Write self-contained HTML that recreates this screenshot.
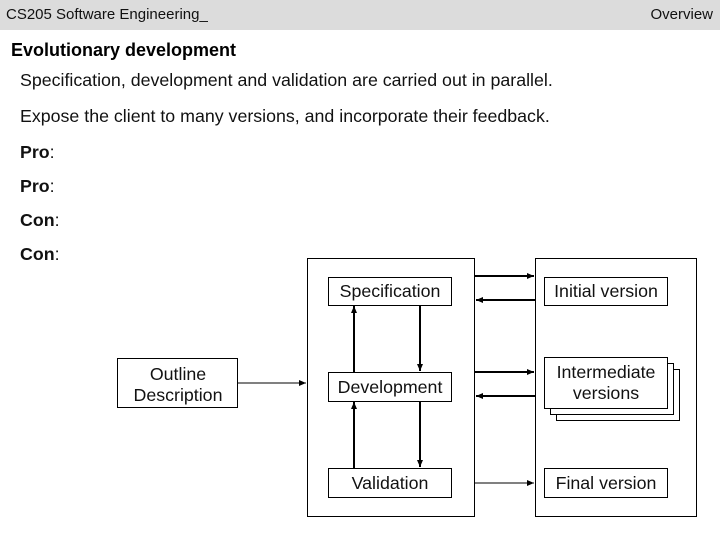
<!DOCTYPE html>
<html><head><meta charset="utf-8"><style>
body{margin:0;width:720px;height:540px;background:#fff;font-family:"Liberation Sans",Arial,sans-serif;overflow:hidden;position:relative}
.hdr{position:absolute;left:0;top:0;width:720px;height:30px;background:#dcdcdc}
.t{position:absolute;white-space:nowrap;color:#111;font-size:17.8px}
</style></head><body>
<div class="hdr"></div>
<div class="t" style="left:6px;top:6px;font-size:15px">CS205 Software Engineering_</div>
<div class="t" style="right:7px;top:6px;font-size:15px">Overview</div>
<div class="t" style="left:11px;top:40px;font-size:18px;font-weight:bold;color:#000">Evolutionary development</div>
<div class="t" style="left:20px;top:70px">Specification, development and validation are carried out in parallel.</div>
<div class="t" style="left:20px;top:106px">Expose the client to many versions, and incorporate their feedback.</div>
<div class="t" style="left:20px;top:142px"><b>Pro</b>:</div>
<div class="t" style="left:20px;top:176px"><b>Pro</b>:</div>
<div class="t" style="left:20px;top:210px"><b>Con</b>:</div>
<div class="t" style="left:20px;top:244px"><b>Con</b>:</div>
<svg width="720" height="540" style="position:absolute;left:0;top:0" font-family="Liberation Sans, Arial, sans-serif" font-size="17.8" fill="none" stroke="#000">
<defs><marker id="a" markerWidth="8" markerHeight="8" refX="7" refY="4" orient="auto" markerUnits="userSpaceOnUse"><path d="M0,1 L7,4 L0,7z" fill="#000" stroke="none"/></marker></defs>
<rect x="307.5" y="258.5" width="167" height="258" stroke-width="1"/>
<rect x="535.5" y="258.5" width="161" height="258"/>
<rect x="328.5" y="277.5" width="123" height="28"/>
<rect x="328.5" y="372.5" width="123" height="29"/>
<rect x="328.5" y="468.5" width="123" height="29"/>
<rect x="544.5" y="277.5" width="123" height="28"/>
<rect x="556.5" y="369.5" width="123" height="51" fill="#fff"/>
<rect x="550.5" y="363.5" width="123" height="51" fill="#fff"/>
<rect x="544.5" y="357.5" width="123" height="51" fill="#fff"/>
<rect x="544.5" y="468.5" width="123" height="29"/>
<rect x="117.5" y="358.5" width="120" height="49"/>
<g stroke-width="2">
<line x1="474" y1="276" x2="534" y2="276" marker-end="url(#a)"/>
<line x1="535" y1="300" x2="476" y2="300" marker-end="url(#a)"/>
<line x1="474" y1="372" x2="534" y2="372" marker-end="url(#a)"/>
<line x1="535" y1="396" x2="476" y2="396" marker-end="url(#a)"/>
<line x1="354" y1="372" x2="354" y2="306" marker-end="url(#a)"/>
<line x1="354" y1="468" x2="354" y2="402" marker-end="url(#a)"/>
<line x1="420" y1="306" x2="420" y2="371" marker-end="url(#a)"/>
<line x1="420" y1="402" x2="420" y2="467" marker-end="url(#a)"/>
</g>
<line x1="474" y1="483" x2="534" y2="483" marker-end="url(#a)"/>
<line x1="237" y1="383" x2="306" y2="383" marker-end="url(#a)"/>
<g fill="#111" stroke="none" text-anchor="middle">
<text x="390" y="297">Specification</text>
<text x="390" y="393">Development</text>
<text x="390" y="489">Validation</text>
<text x="606" y="297">Initial version</text>
<text x="606" y="378">Intermediate</text>
<text x="606" y="399">versions</text>
<text x="606" y="489">Final version</text>
<text x="178" y="380">Outline</text>
<text x="178" y="401">Description</text>
</g>
</svg>
</body></html>
